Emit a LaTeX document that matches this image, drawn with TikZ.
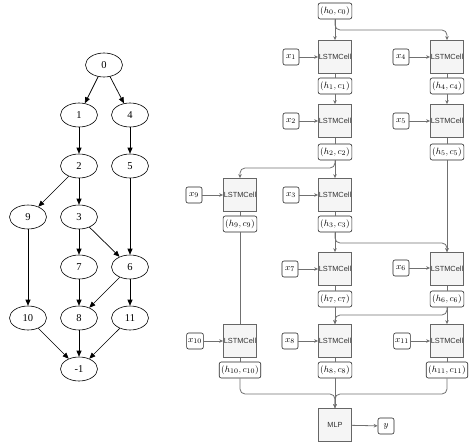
\documentclass[tikz,border=0pt]{standalone}
\usepackage{fontspec}
\setmainfont{Liberation Serif}
\setsansfont{Liberation Sans}
\usetikzlibrary{arrows.meta,shapes.geometric}
\definecolor{cellfill}{HTML}{F5F5F5}
\definecolor{cellline}{HTML}{666666}
\definecolor{wire}{HTML}{707070}
\tikzset{
  gnode/.style={ellipse,draw=black,line width=0.6pt,minimum width=37pt,minimum height=24pt,inner sep=0pt,font=\fontsize{10.5}{12}\selectfont},
  gedge/.style={draw=black,line width=0.7pt,-{Triangle[length=6pt,width=5pt]}},
  cell/.style={rectangle,draw=cellline,fill=cellfill,line width=0.8pt,minimum width=33pt,minimum height=33pt,inner sep=0pt,font=\sffamily\fontsize{7.4}{8}\selectfont,text=black!80},
  hcbox/.style={rectangle,rounded corners=2pt,draw=black!85,fill=white,line width=0.6pt,minimum height=16pt,inner sep=2pt,font=\fontsize{9.5}{11}\selectfont},
  xbox/.style={rectangle,rounded corners=2pt,draw=black!85,fill=white,line width=0.6pt,minimum height=16pt,minimum width=16pt,inner sep=1.5pt,font=\fontsize{9.5}{11}\selectfont},
  wireline/.style={draw=wire,line width=0.8pt},
  conn/.style={wireline,-{Stealth[length=4pt,width=3.5pt]}},
  rc/.style={rounded corners=5pt}
}
\begin{document}
\begin{tikzpicture}[x=1pt,y=-1pt]
\useasboundingbox (0,0) rectangle (474,447);
% ---------- left graph ----------
\node[gnode] (g0) at (104,65) {0};
\node[gnode] (g1) at (79,115) {1};
\node[gnode] (g4) at (130,115) {4};
\node[gnode] (g2) at (79,166) {2};
\node[gnode] (g5) at (130,166) {5};
\node[gnode] (g9) at (28,217) {9};
\node[gnode] (g3) at (79,217) {3};
\node[gnode] (g7) at (79,267) {7};
\node[gnode] (g6) at (130,267) {6};
\node[gnode] (g10) at (28,318) {10};
\node[gnode] (g8) at (79,318) {8};
\node[gnode] (g11) at (130,318) {11};
\node[gnode] (gm1) at (79,369) {-1};
\draw[gedge] (g0) -- (g1);
\draw[gedge] (g0) -- (g4);
\draw[gedge] (g1) -- (g2);
\draw[gedge] (g4) -- (g5);
\draw[gedge] (g2) -- (g9);
\draw[gedge] (g2) -- (g3);
\draw[gedge] (g3) -- (g7);
\draw[gedge] (g3) -- (g6);
\draw[gedge] (g5) -- (g6);
\draw[gedge] (g9) -- (g10);
\draw[gedge] (g7) -- (g8);
\draw[gedge] (g6) -- (g8);
\draw[gedge] (g6) -- (g11);
\draw[gedge] (g10) -- (gm1);
\draw[gedge] (g8) -- (gm1);
\draw[gedge] (g11) -- (gm1);
% ---------- right diagram ----------
\node[hcbox] (h0) at (335,11) {$(h_0,c_0)$};
% column B
\node[cell] (L1) at (335,57) {LSTMCell};
\node[hcbox] (h1) at (335,86) {$(h_1,c_1)$};
\node[cell] (L2) at (335,121) {LSTMCell};
\node[hcbox] (h2) at (335,152) {$(h_2,c_2)$};
\node[cell] (L3) at (335,195) {LSTMCell};
\node[hcbox] (h3) at (335,224) {$(h_3,c_3)$};
\node[cell] (L7) at (335,269) {LSTMCell};
\node[hcbox] (h7) at (335,299) {$(h_7,c_7)$};
\node[cell] (L8) at (335,341) {LSTMCell};
\node[hcbox] (h8) at (335,370) {$(h_8,c_8)$};
\node[cell] (MLP) at (335,425) {MLP};
\node[xbox] (yout) at (386,426) {$y$};
% column C
\node[cell] (L4) at (447,57) {LSTMCell};
\node[hcbox] (h4) at (447,86) {$(h_4,c_4)$};
\node[cell] (L5) at (447,121) {LSTMCell};
\node[hcbox] (h5) at (447,152) {$(h_5,c_5)$};
\node[cell] (L6) at (447,269) {LSTMCell};
\node[hcbox] (h6) at (447,299) {$(h_6,c_6)$};
\node[cell] (L11) at (447,341) {LSTMCell};
\node[hcbox] (h11) at (447,370) {$(h_{11},c_{11})$};
% column A
\node[cell] (L9) at (240,195) {LSTMCell};
\node[hcbox] (h9) at (240,224) {$(h_9,c_9)$};
\node[cell] (L10) at (240,341) {LSTMCell};
\node[hcbox] (h10) at (240,370) {$(h_{10},c_{10})$};
% inputs
\node[xbox] (x1) at (291,57) {$x_1$};
\node[xbox] (x2) at (291,121) {$x_2$};
\node[xbox] (x3) at (291,195) {$x_3$};
\node[xbox] (x7) at (290,269) {$x_7$};
\node[xbox] (x8) at (290,341) {$x_8$};
\node[xbox] (x4) at (401,57) {$x_4$};
\node[xbox] (x5) at (401,121) {$x_5$};
\node[xbox] (x6) at (401,268) {$x_6$};
\node[xbox] (x11) at (402,341) {$x_{11}$};
\node[xbox] (x9) at (194,195) {$x_9$};
\node[xbox] (x10) at (195,341) {$x_{10}$};
% input arrows
\foreach \a/\b in {x1/L1,x2/L2,x3/L3,x7/L7,x8/L8,x4/L4,x5/L5,x6/L6,x11/L11,x9/L9,x10/L10}
  \draw[conn] (\a) -- (\a -| \b.west);
% cell to state
\foreach \a/\b in {L1/h1,L2/h2,L3/h3,L7/h7,L8/h8,L4/h4,L5/h5,L6/h6,L11/h11,L9/h9,L10/h10}
  \draw[wireline] (\a.south) -- (\b.north);
% state flows
\draw[conn] (h0.south) -- (L1.north);
\coordinate (j0) at (335,30);
\draw[conn,rc] (h0.south) -- (j0) -| (L4.north);
\draw[conn] (h1.south) -- (L2.north);
\draw[conn] (h4.south) -- (L5.north);
\draw[conn] (h2.south) -- (L3.north);
\coordinate (j2) at (335,168);
\draw[conn,rc] (h2.south) -- (j2) -| (L9.north);
\draw[conn] (h3.south) -- (L7.north);
\coordinate (j3) at (335,243);
\draw[conn,rc] (h3.south) -- (j3) -| (L6.north);
\draw[conn] (h5.south) -- (L6.north);
\draw[wireline] (h9.south) -- (L10.north);
\draw[conn] (h7.south) -- (L8.north);
\draw[conn] (h6.south) -- (L11.north);
\coordinate (j6) at (447,315);
\draw[conn,rc] (h6.south) -- (j6) -| (L8.north);
\coordinate (jm) at (240,394);
\coordinate (jn) at (447,394);
\draw[conn,rc] (h10.south) -- (jm) -| (MLP.north);
\draw[conn,rc] (h11.south) -- (jn) -| (MLP.north);
\draw[conn] (h8.south) -- (MLP.north);
\draw[conn] (MLP) -- (yout);
\end{tikzpicture}
\end{document}
